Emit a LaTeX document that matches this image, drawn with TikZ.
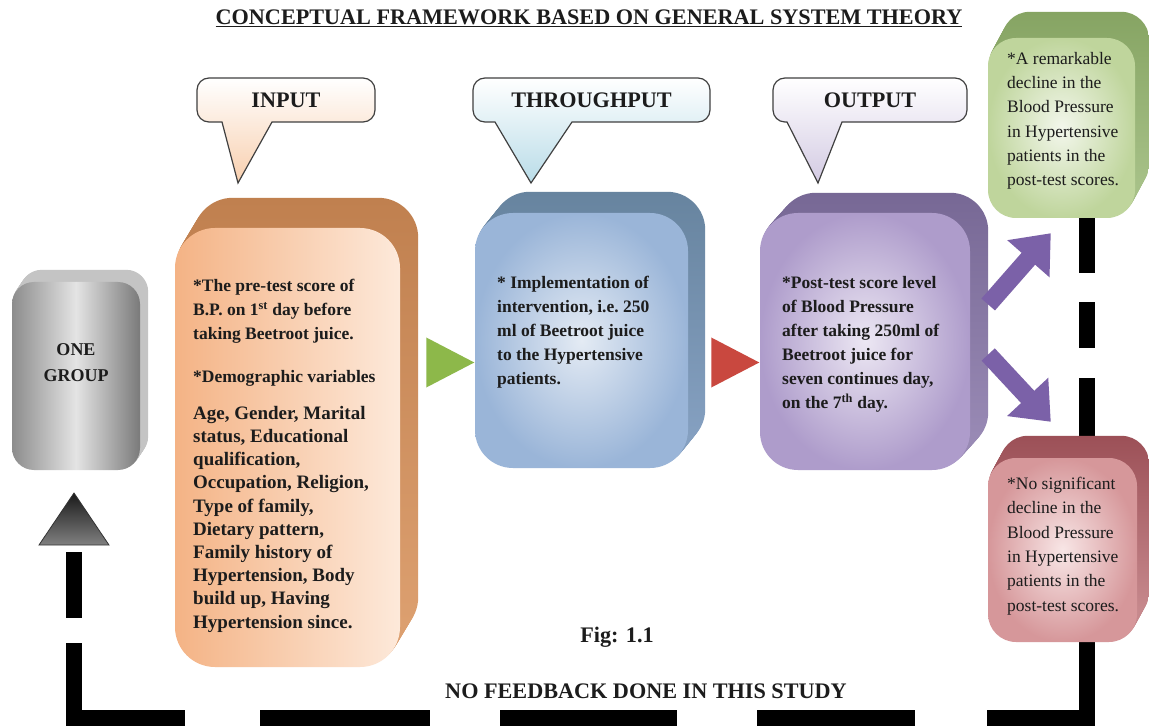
\documentclass[tikz,border=0pt]{standalone}
\usepackage{fontspec}
\setmainfont{Liberation Serif}
\usetikzlibrary{arrows.meta, shapes.geometric, backgrounds, calc}

\definecolor{ink}{HTML}{1C1C1C}
\definecolor{inA}{HTML}{F4B385}
\definecolor{inB}{HTML}{FDE9DA}
\definecolor{inS1}{HTML}{C0804F}
\definecolor{inS2}{HTML}{DDA070}
\definecolor{inTint}{HTML}{F8CFAE}
\definecolor{thA}{HTML}{9AB5D8}
\definecolor{thB}{HTML}{E4EBF4}
\definecolor{thS1}{HTML}{67849F}
\definecolor{thS2}{HTML}{86A1C2}
\definecolor{thTint}{HTML}{B9DCE8}
\definecolor{ouA}{HTML}{AE9CCB}
\definecolor{ouB}{HTML}{ECE7F3}
\definecolor{ouS1}{HTML}{776895}
\definecolor{ouS2}{HTML}{9A8BB6}
\definecolor{ouTint}{HTML}{D3CAE3}
\definecolor{grA}{HTML}{BFD59C}
\definecolor{grB}{HTML}{F3F7EC}
\definecolor{grS1}{HTML}{86A463}
\definecolor{grS2}{HTML}{A8C289}
\definecolor{reA}{HTML}{D6979A}
\definecolor{reB}{HTML}{F8E6E6}
\definecolor{reS1}{HTML}{9C5057}
\definecolor{reS2}{HTML}{C98C90}
\definecolor{gyA}{HTML}{8C8C8C}
\definecolor{gyB}{HTML}{E4E4E4}
\definecolor{gyC}{HTML}{7A7A7A}
\definecolor{gyS}{HTML}{C4C4C4}
\definecolor{goGreen}{HTML}{8DB84A}
\definecolor{stopRed}{HTML}{C9483F}
\definecolor{arrowpurple}{HTML}{7B61A8}

% extruded back of a box: node, x depth, y depth, top colour, bottom colour, radius
\newcommand{\slab}[6]{%
  \foreach \k in {1,...,14}{%
    \path[rounded corners=#6, top color=#4, bottom color=#5]
      ([xshift=#2*\k/14, yshift=#3*\k/14]#1.south west) rectangle
      ([xshift=#2*\k/14, yshift=#3*\k/14]#1.north east);
  }%
}

\begin{document}
\begin{tikzpicture}[x=1pt, y=-1pt,
    face/.style={inner sep=0pt, rounded corners=#1},
    txt/.style={anchor=north west, align=left, inner sep=0pt, text=ink},
    callout/.style={draw=black!75, line width=1.2pt},
    heading/.style={font=\bfseries\fontsize{22.2}{26}\selectfont, text=ink, inner sep=0pt},
    pointer/.style={isosceles triangle, isosceles triangle stretches, minimum width=50pt,
      minimum height=48pt, inner sep=0pt, anchor=apex},
    branch/.style={draw=arrowpurple, line width=18pt, -{Triangle[length=34pt, width=54pt]}},
    feedback/.style={draw=black, line width=16pt}]

    \useasboundingbox (0,0) rectangle (1149,727);

    \node[heading] (title) at (589,18)
        {\underline{CONCEPTUAL FRAMEWORK BASED ON GENERAL SYSTEM THEORY}};

    % Speech bubbles
    \draw[callout, top color=white, bottom color=inTint] (222,122) [rounded corners=12pt]
        -- (197,122) -- (197,78) -- (375,78) -- (375,122) [sharp corners] -- (272,122) -- (238,183) -- cycle;
    \draw[callout, top color=white, bottom color=thTint] (495,122) [rounded corners=12pt]
        -- (473,122) -- (473,78) -- (710,78) -- (710,122) [sharp corners] -- (572,122) -- (531,183) -- cycle;
    \draw[callout, top color=white, bottom color=ouTint] (787,122) [rounded corners=12pt]
        -- (773,122) -- (773,78) -- (967,78) -- (967,122) [sharp corners] -- (842,122) -- (818,183) -- cycle;
    \node[heading] (inlabel) at (286,100) {INPUT};
    \node[heading] (thlabel) at (591.5,100) {THROUGHPUT};
    \node[heading] (oulabel) at (870,100) {OUTPUT};

    % Front faces
    \node[face=22pt, minimum width=128pt, minimum height=188pt,
        left color=gyA, right color=gyC, middle color=gyB] (group) at (76,376) {};
    \node[face=40pt, minimum width=225pt, minimum height=439pt,
        left color=inA, right color=inB] (input) at (287.5,447.5) {};
    \node[face=38pt, minimum width=213pt, minimum height=255pt,
        inner color=thB, outer color=thA] (through) at (581.5,340.5) {};
    \node[face=38pt, minimum width=210pt, minimum height=257pt,
        inner color=ouB, outer color=ouA] (output) at (865,341.5) {};
    \node[face=28pt, minimum width=147pt, minimum height=180pt,
        inner color=grB, outer color=grA] (better) at (1061.5,128) {};
    \node[face=28pt, minimum width=149pt, minimum height=184pt,
        inner color=reB, outer color=reA] (nochange) at (1062.5,550) {};

    % Texts
    \node[txt, align=center, anchor=center, font=\bfseries\fontsize{18}{26}\selectfont]
        (grouptext) at (76,363) {ONE\\GROUP};
    \node[txt, font=\bfseries\fontsize{17.5}{24}\selectfont] (inputtext) at (193,279)
        {*The pre-test score of\\B.P. on 1\textsuperscript{st} day before\\taking Beetroot juice.\\[19pt]*Demographic variables};
    \node[txt, font=\bfseries\fontsize{19}{23.2}\selectfont] (inputlist) at (193,406)
        {Age, Gender, Marital\\status, Educational\\qualification,\\Occupation, Religion,\\Type of family,\\Dietary pattern,\\Family history of\\Hypertension, Body\\build up, Having\\Hypertension since.};
    \node[txt, font=\bfseries\fontsize{17.5}{24}\selectfont] (throughtext) at (497,276)
        {* Implementation of\\intervention, i.e.\ 250\\ml of Beetroot juice\\to the Hypertensive\\patients.};
    \node[txt, font=\bfseries\fontsize{17.5}{24}\selectfont] (outputtext) at (782,276)
        {*Post-test score level\\of Blood Pressure\\after taking 250ml of\\Beetroot juice for\\seven continues day,\\on the 7\textsuperscript{th} day.};
    \node[txt, font=\fontsize{17.5}{24.3}\selectfont] (bettertext) at (1007,52)
        {*A remarkable\\decline in the\\Blood Pressure\\in Hypertensive\\patients in the\\post-test scores.};
    \node[txt, font=\fontsize{17.5}{24.3}\selectfont] (nochangetext) at (1007,477)
        {*No significant\\decline in the\\Blood Pressure\\in Hypertensive\\patients in the\\post-test scores.};

    \node[heading] (figno) at (617,637) {Fig: 1.1};
    \node[heading] (nofeed) at (646,691) {NO FEEDBACK DONE IN THIS STUDY};

    % Flow between the boxes
    \node[pointer, fill=goGreen] (gotri) at ($(through.west)+(0,22)$) {};
    \node[pointer, fill=stopRed] (stoptri) at ($(output.west)+(0,21)$) {};

    \coordinate (upfrom) at ($(output.east)+(18,-37)$);
    \coordinate (upto) at ($(better.south west)+(63,15)$);
    \coordinate (dnfrom) at ($(output.east)+(18,13)$);
    \coordinate (dnto) at ($(nochange.north west)+(63,-36)$);
    \draw[branch] (upfrom) -- (upto);
    \draw[branch] (dnfrom) -- (dnto);

    % Feedback loop
    \coordinate (fbR) at (1087,718);
    \coordinate (fbL) at (74,718);
    \coordinate (fbend) at (74,545);
    \draw[black!80, line width=0.8pt, top color=black!90, bottom color=black!50]
        ($(fbend)+(-35,0)$) -- ($(fbend)+(0,-52)$) -- ($(fbend)+(35,0)$) -- cycle;

    \begin{scope}[on background layer]
        \fill[white] (0,0) rectangle (1149,727);
        \draw[feedback, dash pattern=on 55pt off 29pt on 46pt off 30pt on 90pt]
            (better.south -| fbR) -- (nochange.north -| fbR);
        \draw[feedback, dash pattern=on 176pt off 72pt on 158pt off 80pt on 177pt off 70pt
            on 170pt off 75pt on 186pt off 25pt on 66pt off 7pt]
            (nochange.south -| fbR) -- (fbR) -- (fbL) -- (fbend);
        \slab{group}{8pt}{12pt}{gyS}{gyS}{22pt}
        \slab{input}{18pt}{30pt}{inS1}{inS2}{40pt}
        \slab{through}{17pt}{21pt}{thS1}{thS2}{38pt}
        \slab{output}{18pt}{20pt}{ouS1}{ouS2}{38pt}
        \slab{better}{14pt}{26pt}{grS1}{grS2}{28pt}
        \slab{nochange}{12pt}{22pt}{reS1}{reS2}{28pt}
    \end{scope}
\end{tikzpicture}
\end{document}
